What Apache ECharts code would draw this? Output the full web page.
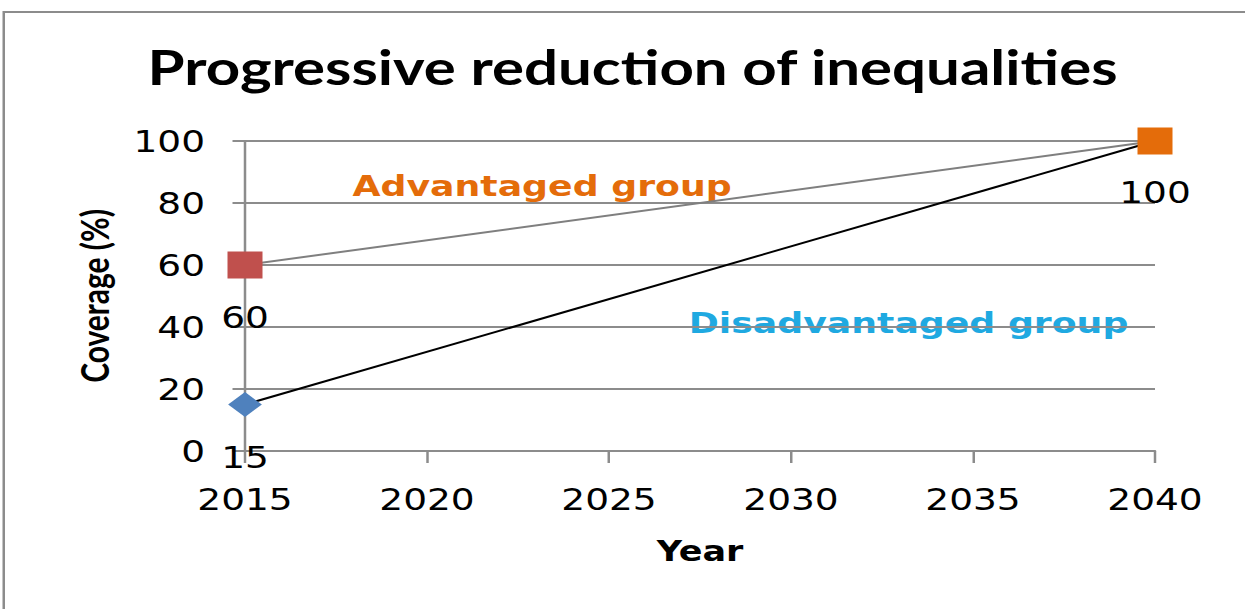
<!DOCTYPE html>
<html>
<head>
<meta charset="utf-8">
<script src="https://cdn.jsdelivr.net/npm/echarts@6/dist/echarts.min.js"></script>
<style>
html,body{margin:0;padding:0;background:#fff;overflow:hidden;}
#wrap{width:1245px;height:609px;overflow:hidden;}
#c{width:996px;height:609px;transform:scaleX(1.25);transform-origin:0 0;}
</style>
</head>
<body>
<div id="wrap"><div id="c"></div></div>
<script>
const years = [2015, 2040];
const advantaged = [60, 100];
const disadvantaged = [15, 100];
const titleText = 'Progressive reduction of inequalities';
const yAxisName = 'Coverage (%)';
const xAxisName = 'Year';
const advLabel = 'Advantaged group';
const disLabel = 'Disadvantaged group';

const chart = echarts.init(document.getElementById('c'), null, {renderer: 'svg'});
const advColors = ['#C0504D', '#E46C0A'];
const labelFont = {fontFamily: 'DejaVu Sans', fontSize: 30, color: '#000'};

chart.setOption({
  animation: false,
  backgroundColor: '#fff',
  title: {
    text: titleText, left: 113, top: 37,
    textStyle: {fontFamily: 'Lato', fontWeight: 'bold', fontSize: 48, color: '#000'}
  },
  graphic: [
    {type: 'rect', shape: {x: 3, y: 12, width: 1200, height: 800}, style: {fill: 'none', stroke: '#8c8c8c', lineWidth: 2}, z: -1},
    {type: 'text', left: 282, top: 172, style: {text: advLabel, font: 'bold 29px "DejaVu Sans"', fill: '#E46C0A'}},
    {type: 'text', left: 551, top: 309, style: {text: disLabel, font: 'bold 29px "DejaVu Sans"', fill: '#1FA9E1'}}
  ],
  grid: {left: 196, right: 72, top: 141, bottom: 158},
  xAxis: {
    type: 'value', min: 2015, max: 2040, interval: 5,
    name: xAxisName, nameLocation: 'middle', nameGap: 86,
    nameTextStyle: {fontFamily: 'DejaVu Sans', fontWeight: 'bold', fontSize: 28, color: '#000'},
    axisLine: {show: true, onZero: false, lineStyle: {color: '#8c8c8c', width: 2}},
    axisTick: {show: true, length: 12, lineStyle: {color: '#8c8c8c', width: 2}},
    axisLabel: {margin: 33, fontFamily: 'DejaVu Sans', fontSize: 30, color: '#000', formatter: v => String(v)},
    splitLine: {show: false}
  },
  yAxis: {
    type: 'value', min: 0, max: 100, interval: 20,
    name: yAxisName, nameLocation: 'middle', nameGap: 106, nameRotate: 90,
    nameTextStyle: {fontFamily: 'Lato', fontWeight: 'bold', fontSize: 30, color: '#000'},
    axisLine: {show: true, lineStyle: {color: '#8c8c8c', width: 2}},
    axisTick: {show: true, length: 10, lineStyle: {color: '#8c8c8c', width: 2}},
    axisLabel: {margin: 32, fontFamily: 'DejaVu Sans', fontSize: 30, color: '#000'},
    splitLine: {show: true, lineStyle: {color: '#8c8c8c', width: 2}}
  },
  series: [
    {
      name: disLabel, type: 'line', z: 3,
      lineStyle: {color: '#000', width: 2},
      data: years.map((y, i) => ({
        value: [y, disadvantaged[i]],
        symbol: i === 0 ? 'diamond' : 'none',
        symbolSize: [27, 25],
        itemStyle: {color: '#4F81BD'},
        label: {show: i === 0, position: 'bottom', distance: 25, ...labelFont}
      }))
    },
    {
      name: advLabel, type: 'line', z: 4,
      lineStyle: {color: '#7f7f7f', width: 2},
      data: years.map((y, i) => ({
        value: [y, advantaged[i]],
        symbol: 'rect',
        symbolSize: [28, 27],
        itemStyle: {color: advColors[i]},
        label: {show: true, position: 'bottom', distance: i === 1 ? 23 : 24, ...labelFont}
      }))
    }
  ]
});
</script>
</body>
</html>
